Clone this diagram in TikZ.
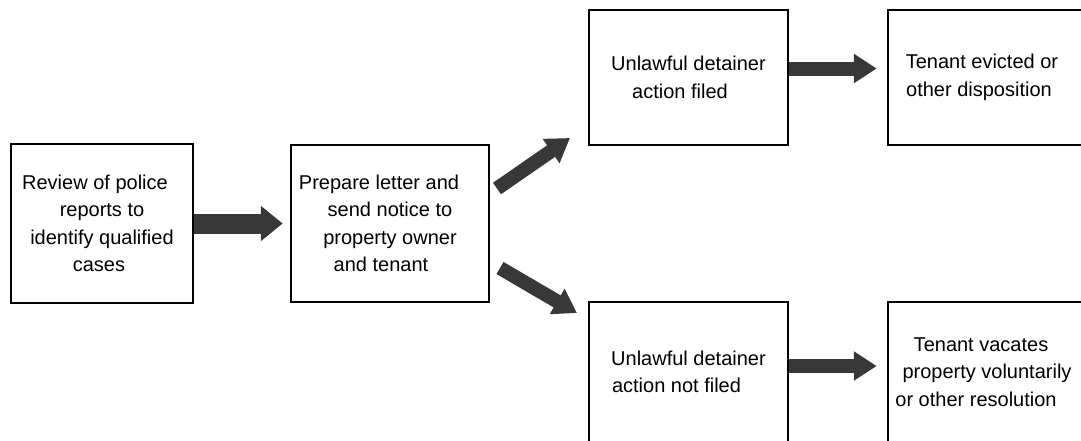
\documentclass[tikz,border=0pt]{standalone}
\usepackage{fontspec}
\setmainfont{Liberation Sans}
\usetikzlibrary{arrows.meta,calc}
\definecolor{arrgray}{HTML}{383838}
\newcommand\tr[1]{\hspace*{#1pt}}
\begin{document}
\begin{tikzpicture}[x=1pt,y=-1pt,
  box/.style={draw=black, line width=2.5pt, rectangle, inner sep=0pt, align=center,
    font=\fontsize{20}{27.5}\selectfont},
  bigarr/.style={draw=arrgray, line width=20pt, -{Triangle[length=22pt,width=34pt]}},
  arr/.style={draw=arrgray, line width=14pt, -{Triangle[length=23pt,width=28pt]}}]
\useasboundingbox (0,0) rectangle (1081,440);
\node[box, minimum width=182pt, minimum height=159pt] (review) at (102,223.5)
  {Review of police\tr{14}\\reports to\tr{12}\\identify qualified\tr{17}\\cases\tr{6}};
\node[box, minimum width=198pt, minimum height=157pt] (prep) at (390,223.5)
  {Prepare letter and\tr{22}\\send notice to\tr{18}\\property owner\tr{20}\\and tenant\tr{18}};
\node[box, minimum width=199pt, minimum height=135pt] (filed) at (688.5,77.5)
  {Unlawful detainer\\action filed\tr{17}};
\node[box, minimum width=198pt, minimum height=135pt] (evicted) at (987,77.5)
  {Tenant evicted or\tr{10}\\other disposition\tr{16}};
\node[box, minimum width=199pt, minimum height=140pt] (notfiled) at (688.5,372)
  {Unlawful detainer\\action not filed\tr{24}};
\node[box, minimum width=198pt, minimum height=140pt] (vacates) at (987,372)
  {Tenant vacates\tr{12}\\property voluntarily\tr{16}\\or other resolution\tr{22}};
\coordinate (upS) at (497,188.5);
\coordinate (upE) at (570,138);
\coordinate (dnS) at (500,268);
\coordinate (dnE) at (577,313);
\draw[bigarr, shorten >=7pt] (review.east) -- (prep.west);
\draw[arr] (upS) -- (upE);
\draw[arr] (dnS) -- (dnE);
\draw[arr, shorten >=10pt] ([yshift=9pt]filed.east) -- ([yshift=9pt]evicted.west);
\draw[arr, shorten >=10pt] ([yshift=6pt]notfiled.east) -- ([yshift=6pt]vacates.west);
\end{tikzpicture}
\end{document}
